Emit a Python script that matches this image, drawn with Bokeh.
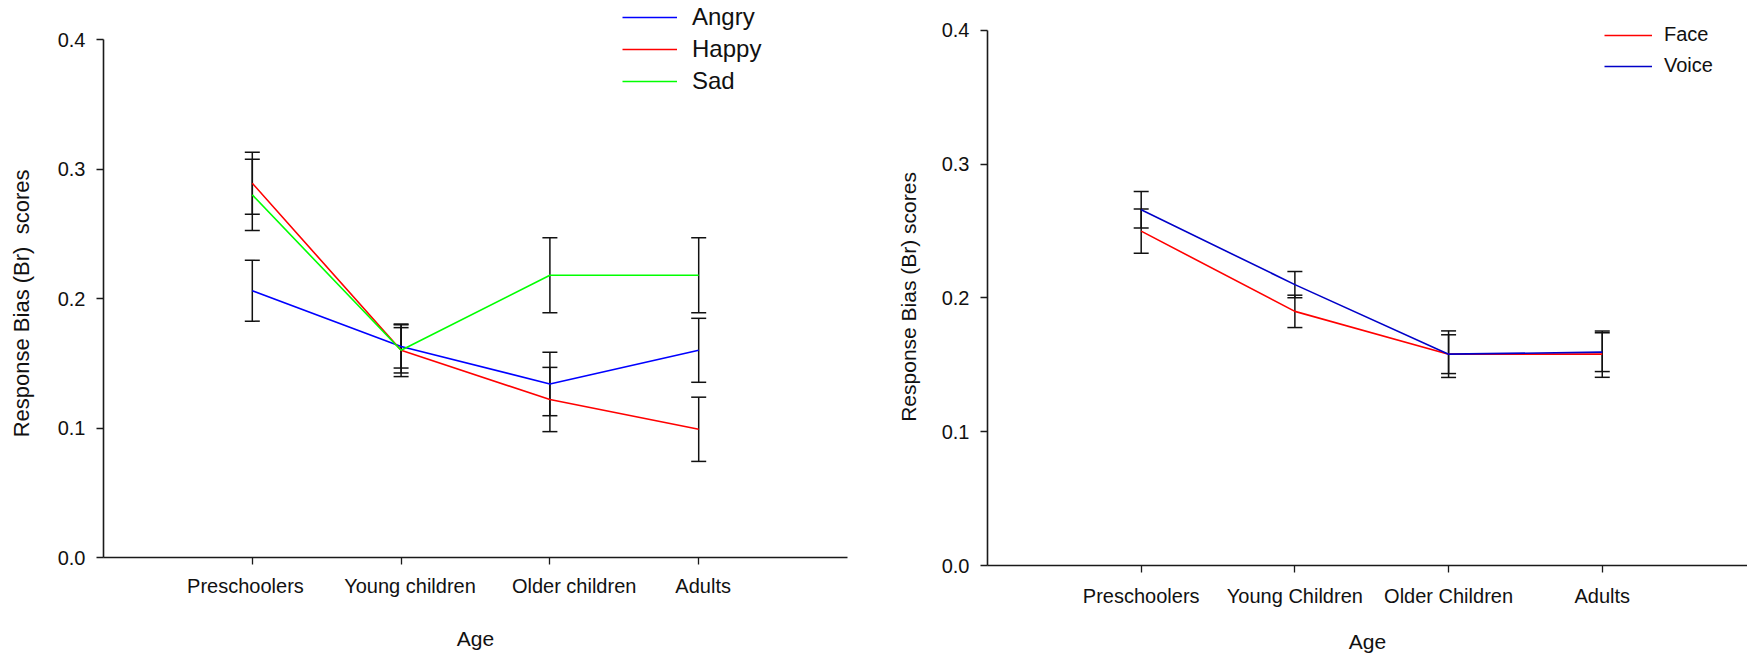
from bokeh.plotting import figure
from bokeh.models import (FixedTicker, Range1d, Whisker, TeeHead, ColumnDataSource,
                          Legend, LegendItem)
from bokeh.layouts import row
from bokeh.embed import file_html
from bokeh.resources import INLINE

# ---------------- data ----------------
left_categories = ["Preschoolers", "Young children", "Older children", "Adults"]
angry = [0.206, 0.163, 0.134, 0.160]
angry_err = [0.0235, 0.0167, 0.0245, 0.0247]
happy = [0.289, 0.160, 0.122, 0.099]
happy_err = [0.0240, 0.0175, 0.0248, 0.0248]
sad = [0.280, 0.160, 0.218, 0.218]
sad_err = [0.0275, 0.0203, 0.0290, 0.0290]

right_categories = ["Preschoolers", "Young Children", "Older Children", "Adults"]
face = [0.250, 0.190, 0.158, 0.158]
face_err = [0.0166, 0.0121, 0.0174, 0.0173]
voice = [0.266, 0.210, 0.158, 0.1595]
voice_err = [0.0137, 0.0098, 0.0145, 0.0145]

y_ticks = [0.0, 0.1, 0.2, 0.3, 0.4]
y_tick_labels = ["0.0", "0.1", "0.2", "0.3", "0.4"]

FONT = "Liberation Sans"
# horizontal nudges of the left chart's category labels (as in the original)
LEFT_LABEL_NUDGE = [-0.046, 0.06, 0.163, 0.03]


def style_axis(ax):
    ax.major_tick_out = 7
    ax.major_tick_in = 0
    ax.minor_tick_out = 0
    ax.minor_tick_in = 0
    ax.axis_line_width = 1.6
    ax.axis_line_color = "#1a1a1a"
    ax.major_tick_line_color = "#1a1a1a"
    ax.major_tick_line_width = 1.3
    ax.minor_tick_line_color = "#1a1a1a"
    ax.minor_tick_line_width = 1.3
    ax.major_label_text_font = FONT
    ax.major_label_text_font_size = "20px"
    ax.major_label_text_color = "#111111"
    ax.axis_label_text_font = FONT
    ax.axis_label_text_font_style = "normal"
    ax.axis_label_text_color = "#111111"
    ax.axis_label_text_font_size = "21px"


def base_style(p, ylabel, ysize, ystandoff):
    p.yaxis.ticker = FixedTicker(ticks=y_ticks)
    p.yaxis.major_label_overrides = {t: l for t, l in zip(y_ticks, y_tick_labels)}
    p.yaxis.bounds = (y_ticks[0], y_ticks[-1])
    p.xgrid.visible = False
    p.ygrid.visible = False
    p.outline_line_color = None
    style_axis(p.xaxis[0])
    style_axis(p.yaxis[0])
    p.yaxis.axis_label_text_font_size = ysize
    p.yaxis.major_label_standoff = 11
    p.yaxis.axis_label = ylabel
    p.yaxis.axis_label_standoff = ystandoff


def add_series(p, values, errs, color, width=1.6):
    xs = list(range(len(values)))
    r = p.line(xs, values, line_color=color, line_width=width)
    src = ColumnDataSource(dict(x=xs,
                                lo=[v - e for v, e in zip(values, errs)],
                                hi=[v + e for v, e in zip(values, errs)]))
    w = Whisker(source=src, base="x", lower="lo", upper="hi", dimension="height",
                line_color="#111111", line_width=1.5,
                upper_head=TeeHead(size=15, line_color="#111111", line_width=1.5),
                lower_head=TeeHead(size=15, line_color="#111111", line_width=1.5))
    p.add_layout(w)
    return r


# ---------------- left chart ----------------
p1 = figure(width=870, height=657, output_backend="svg", toolbar_location=None,
            x_range=Range1d(-1, 4), y_range=Range1d(0, 0.43012),
            min_border_left=103, min_border_right=23, min_border_top=0,
            min_border_bottom=100, background_fill_color="white",
            border_fill_color="white", frame_align=False)
base_style(p1, "Response Bias (Br)\u00a0 scores" + "\u00a0" * 8, "22px", 21)
xs1 = list(range(len(left_categories)))
# category names sit slightly off their tick marks, as in the original figure:
# labels on (nudged) major ticks of length 0, tick marks drawn as minor ticks
label_pos = [i + d for i, d in zip(xs1, LEFT_LABEL_NUDGE)]
p1.xaxis.ticker = FixedTicker(ticks=label_pos, minor_ticks=xs1)
p1.xaxis.major_label_overrides = {x: c for x, c in zip(label_pos, left_categories)}
p1.xaxis.major_tick_out = 0
p1.xaxis.minor_tick_out = 7
p1.xaxis.major_label_standoff = 10
p1.xaxis.axis_label = "Age"
p1.xaxis.axis_label_standoff = 27

ra = add_series(p1, angry, angry_err, "#0000ff")
rh = add_series(p1, happy, happy_err, "#ff0000")
rs = add_series(p1, sad, sad_err, "#00ff00")
leg1 = Legend(items=[LegendItem(label="Angry", renderers=[ra]),
                     LegendItem(label="Happy", renderers=[rh]),
                     LegendItem(label="Sad", renderers=[rs])],
              location=(519, 462), orientation="vertical",
              glyph_width=55, glyph_height=24, label_standoff=15, spacing=4,
              padding=0, margin=0, label_text_font=FONT,
              label_text_font_size="24px", label_text_color="#111111",
              label_height=24, background_fill_alpha=0, border_line_alpha=0)
p1.add_layout(leg1)

# ---------------- right chart ----------------
p2 = figure(width=877, height=657, output_backend="svg", toolbar_location=None,
            x_range=Range1d(-1, 3.945), y_range=Range1d(0, 0.40598),
            min_border_left=117, min_border_right=0, min_border_top=22,
            min_border_bottom=92, background_fill_color="white",
            border_fill_color="white", frame_align=False)
base_style(p2, "Response Bias (Br) scores\u00a0", "21px", 19)
xs2 = list(range(len(right_categories)))
p2.xaxis.ticker = FixedTicker(ticks=xs2)
p2.xaxis.major_label_overrides = {i: c for i, c in zip(xs2, right_categories)}
p2.xaxis.major_label_standoff = 12
p2.xaxis.axis_label = "Age"
p2.xaxis.axis_label_standoff = 20

rf = add_series(p2, face, face_err, "#ff0000")
rv = add_series(p2, voice, voice_err, "#0000c8")
leg2 = Legend(items=[LegendItem(label="Face", renderers=[rf]),
                     LegendItem(label="Voice", renderers=[rv])],
              location=(617, 488), orientation="vertical",
              glyph_width=48, glyph_height=20, label_standoff=12, spacing=8,
              padding=0, margin=0, label_text_font=FONT,
              label_text_font_size="20px", label_text_color="#111111",
              label_height=20, background_fill_alpha=0, border_line_alpha=0)
p2.add_layout(leg2)

layout = row(p1, p2)
open("out.html", "w").write(file_html(layout, INLINE))
